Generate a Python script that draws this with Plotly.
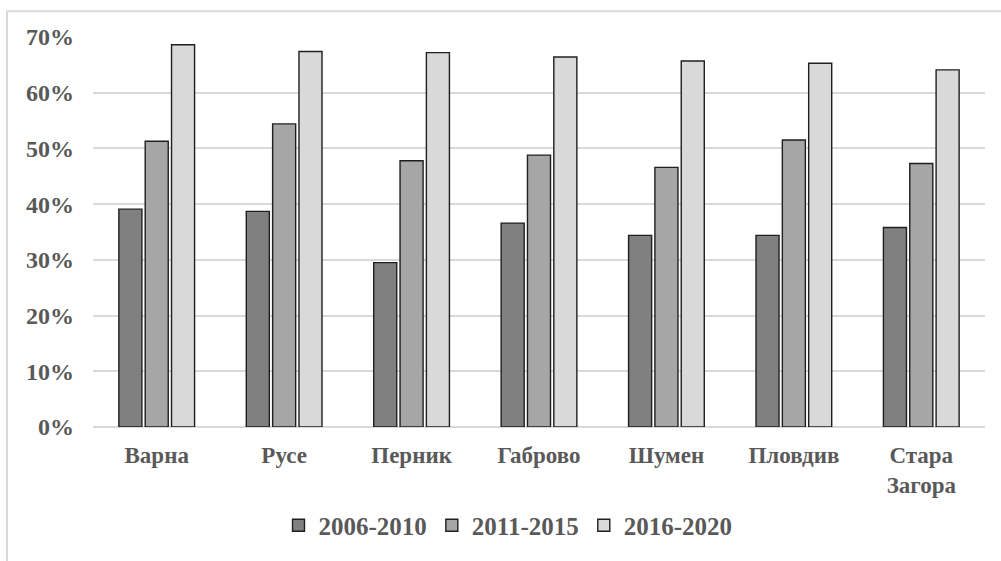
import plotly.graph_objects as go

# Regions and share per period
regions = ["Варна", "Русе", "Перник", "Габрово", "Шумен", "Пловдив", "Стара<br>Загора"]
period_2006_2010 = [0.391, 0.387, 0.295, 0.366, 0.344, 0.344, 0.358]
period_2011_2015 = [0.513, 0.544, 0.478, 0.488, 0.466, 0.515, 0.473]
period_2016_2020 = [0.686, 0.674, 0.672, 0.664, 0.657, 0.653, 0.641]
y_ticks = [0, 0.1, 0.2, 0.3, 0.4, 0.5, 0.6, 0.7]

FONT = "Liberation Serif, DejaVu Serif, serif"
TEXT = "#595959"

series = [
    ("2006-2010", period_2006_2010, "#808080"),
    ("2011-2015", period_2011_2015, "#a6a6a6"),
    ("2016-2020", period_2016_2020, "#d9d9d9"),
]

fig = go.Figure()
for name, vals, color in series:
    fig.add_trace(go.Bar(
        x=regions, y=vals, name=name,
        marker=dict(color=color, line=dict(color="#1f1f1f", width=1.4)),
    ))

W, H = 1001, 561
L, R, T, B = 93, 16, 37, 132
pw, ph = W - L - R, H - T - B

def px_x(x):
    return (x - L) / pw

def px_y(y):
    return (H - B - y) / ph

fig.update_layout(
    width=W, height=H,
    margin=dict(l=L, r=R, t=T, b=B),
    paper_bgcolor="white", plot_bgcolor="white",
    barmode="group", bargap=0.38, bargroupgap=0.125,
    font=dict(family=FONT, size=23, color=TEXT),
    showlegend=True,
    legend=dict(
        orientation="h", x=px_x(508), xanchor="center",
        y=px_y(528), yanchor="middle",
        font=dict(family=FONT, size=25, color=TEXT, weight=700),
        itemwidth=30, traceorder="normal",
    ),
    xaxis=dict(
        showgrid=False, showline=False, zeroline=False,
        ticks="", ticklabelstandoff=12,
        tickfont=dict(family=FONT, size=23, color=TEXT, weight=700),
    ),
    yaxis=dict(
        range=[0, 0.7], tickvals=y_ticks, tickformat=".0%",
        showgrid=True, gridcolor="#d9d9d9", gridwidth=1.5,
        zeroline=True, zerolinecolor="#d9d9d9", zerolinewidth=1.5,
        showline=False, ticks="", ticklabelstandoff=18,
        tickfont=dict(family=FONT, size=24, color=TEXT, weight=700),
    ),
    shapes=[dict(
        type="rect", xref="paper", yref="paper",
        x0=px_x(7), x1=px_x(1005), y0=px_y(565), y1=px_y(11),
        line=dict(color="#d9d9d9", width=2), layer="below",
    )],
)

fig.write_html("out.html")
